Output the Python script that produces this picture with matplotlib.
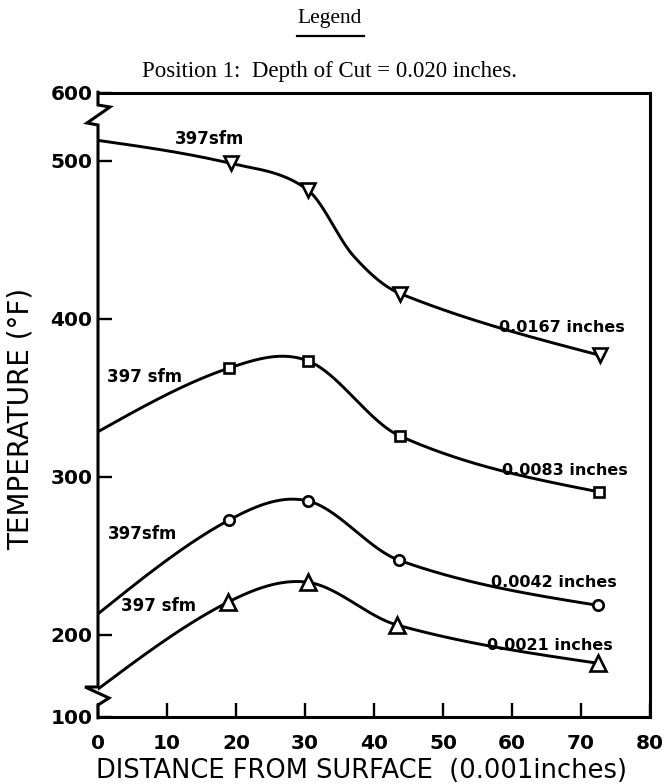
import numpy as np
import matplotlib
matplotlib.use("Agg")
import matplotlib.pyplot as plt

# ---------------- data ----------------
# x = distance from surface (0.001 in), y = temperature (F); first point of each
# curve is the surface (x=0) end of the hand-drawn curve (no marker)
s1_x = [0, 19.3, 30.4, 43.8, 72.7]
s1_y = [513, 498.4, 481.6, 416.0, 377.0]
s1_extra_x = [37.0]           # unmarked curve vertex (S-bend)
s1_extra_y = [440.0]
s2_x = [0, 19.0, 30.5, 43.7, 72.6]
s2_y = [328.6, 368.9, 373.3, 326.0, 290.5]
s3_x = [0, 19.0, 30.4, 43.6, 72.4]
s3_y = [213.3, 272.7, 284.8, 247.3, 218.7]
s4_x = [0, 18.8, 30.4, 43.3, 72.5]
s4_y = [165.7, 220.6, 233.3, 206.3, 182.0]

feed_labels = ["0.0167 inches", "0.0083 inches", "0.0042 inches", "0.0021 inches"]
speed_labels = ["397sfm", "397 sfm", "397sfm", "397 sfm"]
feed_label_pos = [(67.2, 394.6), (67.7, 303.8), (66.1, 233.3), (65.5, 193.0)]
speed_label_pos = [(16.1, 514.0), (6.8, 363.5), (6.5, 264.0), (8.8, 218.0)]

x_ticks = [0, 10, 20, 30, 40, 50, 60, 70, 80]
y_ticks = [200, 300, 400, 500]
y_lim = (148, 543)                 # broken axis: bottom shown as 100, top as 600
y_break_labels = ["100", "600"]

title1 = "Legend"
title2 = "Position 1:  Depth of Cut = 0.020 inches."
xlabel = "DISTANCE FROM SURFACE  (0.001inches)"
ylabel = "TEMPERATURE (\u00b0F)"


def smooth(x, y, xn):
    """Cubic Hermite curve (Catmull-Rom tangents, natural ends) through points."""
    x = np.asarray(x, float); y = np.asarray(y, float)
    n = len(x); h = np.diff(x); d = np.diff(y) / h
    m = np.zeros(n)
    for k in range(1, n - 1):
        m[k] = (y[k + 1] - y[k - 1]) / (x[k + 1] - x[k - 1])
    m[0] = (3 * d[0] - m[1]) / 2
    m[-1] = (3 * d[-1] - m[-2]) / 2
    idx = np.clip(np.searchsorted(x, xn) - 1, 0, n - 2)
    t = (xn - x[idx]) / h[idx]
    h00 = 2 * t**3 - 3 * t**2 + 1; h10 = t**3 - 2 * t**2 + t
    h01 = -2 * t**3 + 3 * t**2; h11 = t**3 - t**2
    return h00 * y[idx] + h10 * h[idx] * m[idx] + h01 * y[idx + 1] + h11 * h[idx] * m[idx + 1]


fig = plt.figure(figsize=(6.64, 7.84), dpi=100)
W, H = 664, 784
L, R, T, B = 98, 650, 93, 717
ax = fig.add_axes([L / W, 1 - B / H, (R - L) / W, (B - T) / H])
ax.set_xlim(0, 80)
ax.set_ylim(*y_lim)

lw = 2.1
series = [
    (s1_x, s1_y, s1_extra_x, s1_extra_y, "v", 10.5),
    (s2_x, s2_y, [], [], "s", 7),
    (s3_x, s3_y, [], [], "o", 7.5),
    (s4_x, s4_y, [], [], "^", 11),
]
for xs, ys, ex, ey, mk, ms in series:
    cx = list(xs) + list(ex); cy = list(ys) + list(ey)
    order = np.argsort(cx)
    cx = np.array(cx)[order]; cy = np.array(cy)[order]
    xn = np.linspace(cx[0], cx[-1], 500)
    ax.plot(xn, smooth(cx, cy, xn), color="black", lw=lw, solid_capstyle="round", zorder=2)
    ax.plot(xs[1:], ys[1:], linestyle="none", marker=mk, ms=ms, mfc="white",
            mec="black", mew=1.9, zorder=3)

lab_font = dict(family="DejaVu Sans", fontweight="bold", fontsize=11.5, color="black")
for (tx, ty), s in zip(feed_label_pos, feed_labels):
    ax.text(tx, ty, s, ha="center", va="center", **lab_font)
spd_font = dict(lab_font, fontsize=12)
for (tx, ty), s in zip(speed_label_pos, speed_labels):
    ax.text(tx, ty, s, ha="center", va="center", **spd_font)

# spines
for side in ["top", "right", "bottom"]:
    ax.spines[side].set_linewidth(2.2)
ax.spines["left"].set_visible(False)

# left spine with axis-break zigzags (pixel offsets converted to axes fraction)
aw, ah = R - L, B - T
def P(px, py):
    return ((px - L) / aw, 1 - (py - T) / ah)
pts = [P(98, 92.2), P(98, 105), P(110, 107), P(87, 123), P(98, 125),
       P(98, 687), P(85, 687), P(109, 698), P(98, 705), P(98, 717.8)]
ax.plot([p[0] for p in pts], [p[1] for p in pts], transform=ax.transAxes,
        color="black", lw=2.2, clip_on=False, solid_joinstyle="miter", zorder=4)

# ticks
tick_font = dict(family="DejaVu Sans", fontweight="bold", fontsize=14.5)
ax.set_xticks(x_ticks)
ax.set_xticklabels([str(v) for v in x_ticks], **tick_font)
ax.set_yticks([y_lim[0]] + y_ticks + [y_lim[1]])
ax.set_yticklabels([y_break_labels[0]] + [str(v) for v in y_ticks] + [y_break_labels[1]], **tick_font)
ax.tick_params(axis="x", direction="in", length=10, width=1.7, pad=12, top=False)
ax.tick_params(axis="y", direction="in", length=10, width=1.7, pad=4, right=False)

ax.set_xlabel(xlabel, family="DejaVu Sans", fontsize=18.5, va="center")
ax.xaxis.set_label_coords(0.478, -0.087)
ax.set_ylabel(ylabel, family="DejaVu Sans", fontsize=20, va="center")
ax.yaxis.set_label_coords(-0.1395, 0.4776)

fig.text(330 / W, 1 - 18 / H, title1, ha="center", va="center", family="Liberation Serif", fontsize=15.5)
fig.add_artist(plt.Line2D([297 / W, 364 / W], [1 - 36 / H, 1 - 36 / H], color="black", lw=1.6))
fig.text(330 / W, 1 - 71 / H, title2, ha="center", va="center", family="Liberation Serif", fontsize=16.5)

fig.savefig("out.png", dpi=100)
